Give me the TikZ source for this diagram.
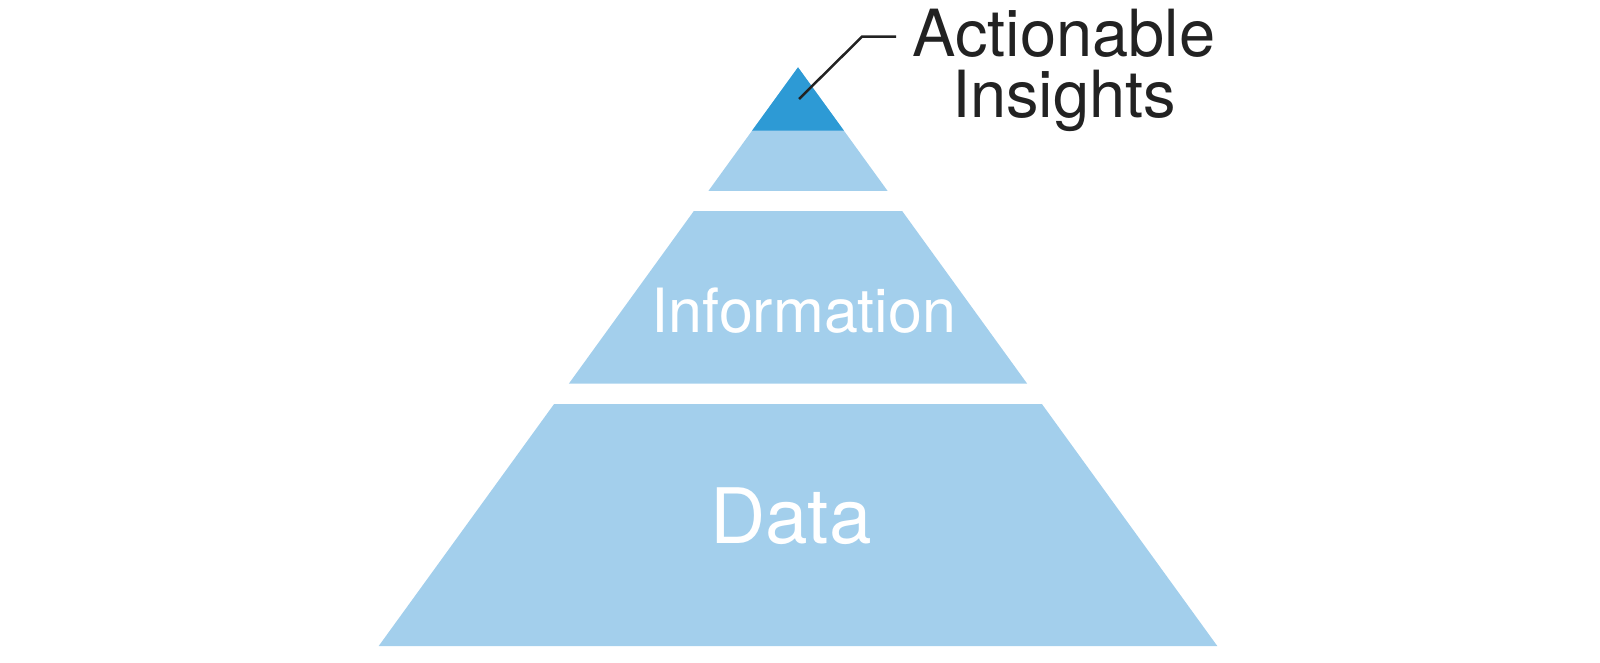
\documentclass[tikz,border=0pt]{standalone}
\usepackage{fontspec}
\setmainfont{TeX Gyre Heros}
\definecolor{tierblue}{HTML}{A3CFEC}
\definecolor{topblue}{HTML}{2D9AD5}
\definecolor{inkgray}{HTML}{222222}
\begin{document}
\begin{tikzpicture}[x=1pt, y=-1pt]
\useasboundingbox (0,0) rectangle (1600,662);
\coordinate (apex) at (798,67.3);
\coordinate (tl1) at (752.1,130.6);
\coordinate (tr1) at (843.9,130.6);
\coordinate (tl2) at (708.5,190.8);
\coordinate (tr2) at (887.5,190.8);
\coordinate (il1) at (693.7,211.2);
\coordinate (ir1) at (902.3,211.2);
\coordinate (il2) at (568.8,383.7);
\coordinate (ir2) at (1027.2,383.7);
\coordinate (dl1) at (554.1,404);
\coordinate (dr1) at (1041.9,404);
\coordinate (dl2) at (378.7,646);
\coordinate (dr2) at (1217.3,646);
% tiers
\fill [tierblue] (apex) -- (tl2) -- (tr2) -- cycle;
\fill [topblue] (apex) -- (tl1) -- (tr1) -- cycle;
\fill [tierblue] (il1) -- (il2) -- (ir2) -- (ir1) -- cycle;
\fill [tierblue] (dl1) -- (dl2) -- (dr2) -- (dr1) -- cycle;
% labels
\node (info) at (804,332.7) [anchor=base, inner sep=0, text=white, font=\fontsize{61}{61}\selectfont] {Information};
\node (data) at (791,543) [anchor=base, inner sep=0, text=white, font=\fontsize{76.5}{76.5}\selectfont] {Data};
\node (act) at (1064,56) [anchor=base, inner sep=0, text=inkgray, font=\fontsize{65}{65}\selectfont] {Actionable};
\node (ins) at (1064,117.3) [anchor=base, inner sep=0, text=inkgray, font=\fontsize{65}{65}\selectfont] {Insights};
% leader
\coordinate (lead) at (799,99);
\coordinate (elbow) at (862,36.7);
\coordinate (leadend) at (896,36.7);
\draw [inkgray, line width=2.5pt] (lead) -- (elbow) -- (leadend);
\end{tikzpicture}
\end{document}
